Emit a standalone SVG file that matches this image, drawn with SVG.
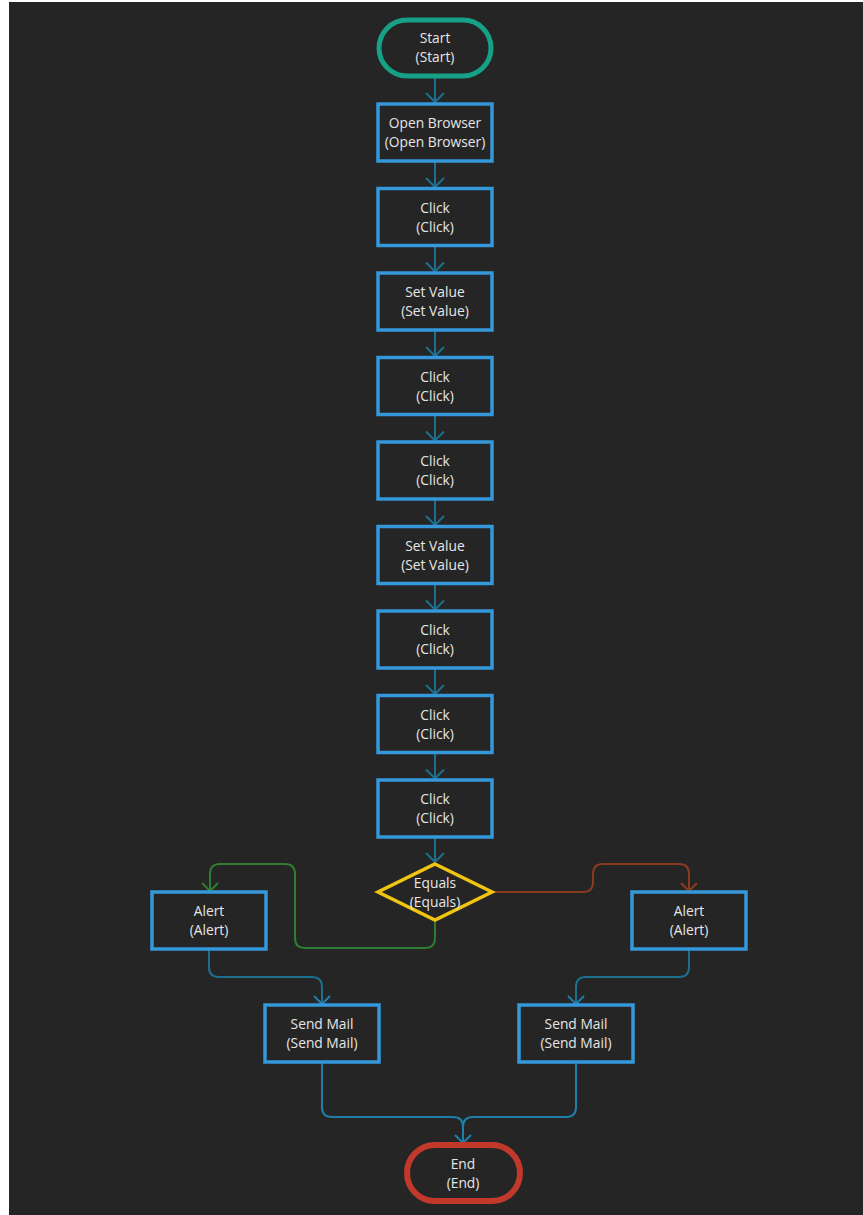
<svg xmlns="http://www.w3.org/2000/svg" width="863" height="1215" viewBox="0 0 863 1215">
<defs>
<style>
.bg{fill:#252525}
.n{fill:#252525;stroke:#3498db;stroke-width:3.5}
.t{font-family:"Open Sans","Noto Sans","DejaVu Sans",sans-serif;font-size:13.8px;fill:#e6e6e6;text-anchor:middle}
.c{fill:none;stroke:#1d6f8f;stroke-width:2}
.cb{fill:none;stroke:#1f7fab;stroke-width:2}
.g{fill:none;stroke:#2e7d32;stroke-width:2}
.r{fill:none;stroke:#8a3a20;stroke-width:2}
</style>
<marker id="ab2" viewBox="0 0 18 10" refX="9" refY="9" markerWidth="18" markerHeight="10" markerUnits="userSpaceOnUse" orient="0">
<path d="M1,1 L9,9 L17,1" fill="none" stroke="#1f7fab" stroke-width="2"/>
</marker>
<marker id="ag" viewBox="0 0 18 10" refX="9" refY="9" markerWidth="18" markerHeight="10" markerUnits="userSpaceOnUse" orient="0">
<path d="M1,1 L9,9 L17,1" fill="none" stroke="#2e7d32" stroke-width="2"/>
</marker>
<marker id="ar" viewBox="0 0 18 10" refX="9" refY="9" markerWidth="18" markerHeight="10" markerUnits="userSpaceOnUse" orient="0">
<path d="M1,1 L9,9 L17,1" fill="none" stroke="#8a3a20" stroke-width="2"/>
</marker>
</defs>
<rect x="0" y="0" width="863" height="1215" fill="#ffffff"/>
<rect class="bg" x="9" y="2" width="854" height="1213"/>

<g id="connectors">
<path class="c" d="M435,77 L435,103"/>
<path class="c" d="M435,161 L435,188"/>
<path class="c" d="M435,245.5 L435,272.5"/>
<path class="c" d="M435,330 L435,357"/>
<path class="c" d="M435,414.5 L435,441.5"/>
<path class="c" d="M435,499 L435,526"/>
<path class="c" d="M435,583.5 L435,610.5"/>
<path class="c" d="M435,668 L435,695"/>
<path class="c" d="M435,752.5 L435,779.5"/>
<path class="c" d="M435,837 L435,863"/>
<g fill="none" stroke="#1d6f8f" stroke-width="2">
<path d="M426,93 L435,102 L444,93"/>
<path d="M426,178 L435,187 L444,178"/>
<path d="M426,262.5 L435,271.5 L444,262.5"/>
<path d="M426,347 L435,356 L444,347"/>
<path d="M426,431.5 L435,440.5 L444,431.5"/>
<path d="M426,516 L435,525 L444,516"/>
<path d="M426,600.5 L435,609.5 L444,600.5"/>
<path d="M426,685 L435,694 L444,685"/>
<path d="M426,769.5 L435,778.5 L444,769.5"/>
<path d="M426,853 L435,862 L444,853"/>
</g>
<path class="g" d="M435,920 L435,938 Q435,948 425,948 L305,948 Q295,948 295,938 L295,874 Q295,864 285,864 L220,864 Q210,864 210,874 L210,891" marker-end="url(#ag)"/>
<path class="r" d="M493,892 L583,892 Q593,892 593,882 L593,874 Q593,864 603,864 L679,864 Q689,864 689,874 L689,891" marker-end="url(#ar)"/>
<path class="c" d="M209,949 L209,967 Q209,977 219,977 L312,977 Q322,977 322,987 L322,1004" marker-end="url(#ab2)"/>
<path class="c" d="M689,949 L689,967 Q689,977 679,977 L586,977 Q576,977 576,987 L576,1004" marker-end="url(#ab2)"/>
<path class="cb" d="M322,1062 L322,1107 Q322,1117 332,1117 L453,1117 Q463,1117 463,1127 L463,1143" marker-end="url(#ab2)"/>
<path class="cb" d="M576,1062 L576,1107 Q576,1117 566,1117 L473,1117 Q463,1117 463,1127 L463,1143"/>
</g>

<g id="start">
<rect x="379" y="20" width="112" height="56" rx="28" fill="#252525" stroke="#16a085" stroke-width="5"/>
<text class="t" x="435" y="43">Start</text>
<text class="t" x="435" y="62">(Start)</text>
</g>
<g id="n1"><rect class="n" x="378" y="104" width="114" height="57"/><text class="t" x="435" y="128">Open Browser</text><text class="t" x="435" y="147">(Open Browser)</text></g>
<g id="n2"><rect class="n" x="378" y="188.5" width="114" height="57"/><text class="t" x="435" y="212.5">Click</text><text class="t" x="435" y="231.5">(Click)</text></g>
<g id="n3"><rect class="n" x="378" y="273" width="114" height="57"/><text class="t" x="435" y="297">Set Value</text><text class="t" x="435" y="316">(Set Value)</text></g>
<g id="n4"><rect class="n" x="378" y="357.5" width="114" height="57"/><text class="t" x="435" y="381.5">Click</text><text class="t" x="435" y="400.5">(Click)</text></g>
<g id="n5"><rect class="n" x="378" y="442" width="114" height="57"/><text class="t" x="435" y="466">Click</text><text class="t" x="435" y="485">(Click)</text></g>
<g id="n6"><rect class="n" x="378" y="526.5" width="114" height="57"/><text class="t" x="435" y="550.5">Set Value</text><text class="t" x="435" y="569.5">(Set Value)</text></g>
<g id="n7"><rect class="n" x="378" y="611" width="114" height="57"/><text class="t" x="435" y="635">Click</text><text class="t" x="435" y="654">(Click)</text></g>
<g id="n8"><rect class="n" x="378" y="695.5" width="114" height="57"/><text class="t" x="435" y="719.5">Click</text><text class="t" x="435" y="738.5">(Click)</text></g>
<g id="n9"><rect class="n" x="378" y="780" width="114" height="57"/><text class="t" x="435" y="804">Click</text><text class="t" x="435" y="823">(Click)</text></g>
<g id="equals">
<polygon points="435,864 492,892 435,920 378,892" fill="#252525" stroke="#f1c40f" stroke-width="3.5"/>
<text class="t" x="435" y="888">Equals</text>
<text class="t" x="435" y="907">(Equals)</text>
</g>
<g id="alertL"><rect class="n" x="152" y="892" width="114" height="57"/><text class="t" x="209" y="916">Alert</text><text class="t" x="209" y="935">(Alert)</text></g>
<g id="alertR"><rect class="n" x="632" y="892" width="114" height="57"/><text class="t" x="689" y="916">Alert</text><text class="t" x="689" y="935">(Alert)</text></g>
<g id="mailL"><rect class="n" x="265" y="1005" width="114" height="57"/><text class="t" x="322" y="1029">Send Mail</text><text class="t" x="322" y="1048">(Send Mail)</text></g>
<g id="mailR"><rect class="n" x="519" y="1005" width="114" height="57"/><text class="t" x="576" y="1029">Send Mail</text><text class="t" x="576" y="1048">(Send Mail)</text></g>
<g id="end">
<rect x="407" y="1145" width="113" height="56" rx="28" fill="#252525" stroke="#c0392b" stroke-width="6"/>
<text class="t" x="463" y="1169">End</text>
<text class="t" x="463" y="1188">(End)</text>
</g>
</svg>
